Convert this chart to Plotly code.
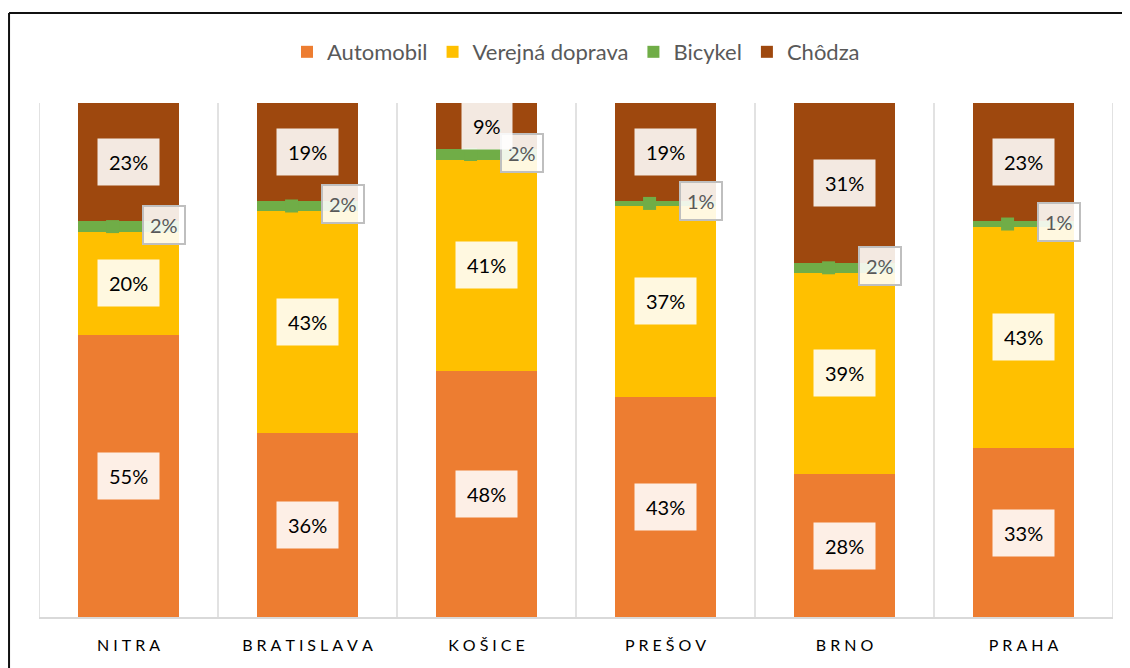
import plotly.graph_objects as go

cities = ["NITRA", "BRATISLAVA", "KOŠICE", "PREŠOV", "BRNO", "PRAHA"]
automobil = [55, 36, 48, 43, 28, 33]
verejna = [20, 43, 41, 37, 39, 43]
bicykel = [2, 2, 2, 1, 2, 1]
chodza = [23, 19, 9, 19, 31, 23]

series = [
    ("Automobil", automobil, "#ED7D31"),
    ("Verejná doprava", verejna, "#FFC000"),
    ("Bicykel", bicykel, "#70AD47"),
    ("Chôdza", chodza, "#9E480E"),
]

FONT = "Lato, Carlito, Calibri, sans-serif"
fig = go.Figure()
for name, vals, col in series:
    fig.add_trace(go.Bar(x=cities, y=vals, name=name, marker_color=col,
                         marker_line_width=0, width=0.56))

# bicycle square markers at segment middle (slightly left of bar centre, on shifted overlay axis)
bike_mid = [a + v + b / 2 for a, v, b in zip(automobil, verejna, bicykel)]
fig.add_trace(go.Scatter(x=cities, y=bike_mid, mode="markers", showlegend=False,
                         xaxis="x2",
                         marker=dict(symbol="square", size=13, color="#70AD47"),
                         hoverinfo="skip"))

ann = []
for i, c in enumerate(cities):
    base = 0
    for name, vals, col in series:
        v = vals[i]
        mid = base + v / 2
        if name == "Bicykel":
            ann.append(dict(x=c, y=mid, text=f"{v}%", showarrow=False, xshift=35, yshift=2,
                            font=dict(size=20, color="#595959", family=FONT),
                            bgcolor="rgba(255,255,255,0.88)", bordercolor="#BFBFBF",
                            borderwidth=2, borderpad=6))
        else:
            ann.append(dict(x=c, y=mid, text=f"{v}%", showarrow=False,
                            font=dict(size=20, color="#000000", family=FONT),
                            bgcolor="rgba(255,255,255,0.88)", borderpad=11))
        base += v

shapes = []
for k in range(len(cities) + 1):
    shapes.append(dict(type="line", xref="x", yref="paper", x0=k - 0.5, x1=k - 0.5,
                       y0=0, y1=1, line=dict(color="#D9D9D9", width=1.5), layer="below"))
shapes.append(dict(type="line", xref="paper", yref="paper", x0=0, x1=1, y0=0, y1=0,
                   line=dict(color="#D9D9D9", width=2)))
# outer frame (left and top edges)
shapes.append(dict(type="line", xref="paper", yref="paper", x0=-0.0279, x1=-0.0279,
                   y0=-0.2, y1=1.1748, line=dict(color="#111111", width=2)))
shapes.append(dict(type="line", xref="paper", yref="paper", x0=-0.0279, x1=1.1,
                   y0=1.1748, y1=1.1748, line=dict(color="#111111", width=2)))

ticktext = ["\u2005".join(list(c)) for c in cities]
n = len(cities)
shift = 0.089

fig.update_layout(
    barmode="stack",
    width=1122, height=660,
    margin=dict(l=31, r=17, t=95, b=50),
    paper_bgcolor="white", plot_bgcolor="white",
    font=dict(family=FONT),
    showlegend=True,
    legend=dict(orientation="h", x=0.5, xanchor="center", y=1.099, yanchor="middle",
                traceorder="normal", font=dict(size=22, color="#595959", family=FONT)),
    annotations=ann,
    shapes=shapes,
    xaxis=dict(range=[-0.5, n - 0.5], showgrid=False, showline=False,
               tickmode="array", tickvals=cities, ticktext=ticktext,
               categoryorder="array", categoryarray=cities,
               tickfont=dict(size=16, color="#000000", family=FONT), ticklabelstandoff=16),
    xaxis2=dict(range=[-0.5 + shift, n - 0.5 + shift], overlaying="x", visible=False,
                categoryorder="array", categoryarray=cities, showgrid=False),
    yaxis=dict(range=[0, 100], visible=False, showgrid=False),
)

fig.write_html("out.html")
